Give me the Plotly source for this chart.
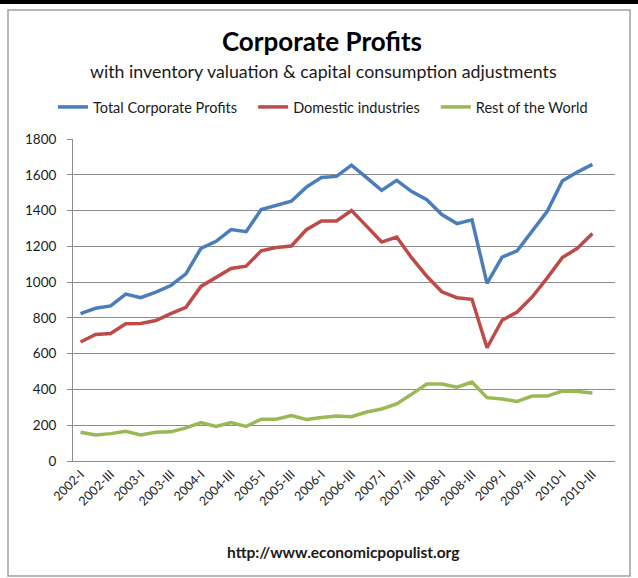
import plotly.graph_objects as go

quarters = [f"{y}-{q}" for y in range(2002, 2011) for q in ["I", "II", "III", "IV"]]
tick_labels = ["2002-I", "2002-III", "2003-I", "2003-III", "2004-I", "2004-III",
               "2005-I", "2005-III", "2006-I", "2006-III", "2007-I", "2007-III",
               "2008-I", "2008-III", "2009-I", "2009-III", "2010-I", "2010-III"]

total = [824, 854, 867, 933, 913, 944, 981, 1046, 1189, 1228, 1294, 1282,
         1406, 1428, 1452, 1531, 1585, 1591, 1654, 1584, 1513, 1569, 1506, 1461,
         1378, 1327, 1348, 993, 1139, 1175, 1285, 1396, 1565, 1615, 1658]
domestic = [665, 707, 713, 767, 769, 785, 824, 859, 976, 1026, 1076, 1089,
            1175, 1193, 1202, 1293, 1342, 1342, 1400, 1313, 1224, 1252, 1135, 1033,
            946, 913, 904, 633, 787, 833, 917, 1024, 1137, 1189, 1272]
rest_world = [161, 146, 153, 166, 146, 161, 163, 185, 215, 193, 215, 193,
              234, 234, 254, 232, 243, 252, 248, 274, 291, 319, 374, 430,
              430, 413, 441, 354, 346, 333, 363, 363, 391, 389, 380]

FONT = "Lato, 'Open Sans', sans-serif"
GRID = "#8c8c8c"
PAD = "\u00a0" * 3  # widen legend entries a little, Excel spaces them further apart

# plot area in pixels: x 73..615, y 139..461
L, R, T, B = 73, 615, 139, 461
W, H = 638, 578


def px_x(p):
    return (p - L) / (R - L)


def px_y(p):
    return (B - p) / (B - T)


fig = go.Figure()
for name, vals, color in [("Total Corporate Profits", total, "#4a7ebb"),
                          ("Domestic industries", domestic, "#be4b48"),
                          ("Rest of the World", rest_world, "#98b954")]:
    fig.add_trace(go.Scatter(x=quarters[:len(vals)], y=vals, name=name + PAD, mode="lines",
                             line=dict(color=color, width=3.5)))

fig.update_layout(
    width=W, height=H,
    margin=dict(l=L, r=W - R, t=T, b=H - B),
    paper_bgcolor="white", plot_bgcolor="white",
    font=dict(family=FONT, color="#1a1a1a", size=12),
    title=dict(text="<b>Corporate Profits</b>", x=px_x(322), xanchor="center",
               y=1 - 42 / H, yanchor="middle", xref="paper",
               font=dict(size=26, color="black")),
    legend=dict(orientation="h", x=px_x(53), y=px_y(107), xanchor="left", yanchor="middle",
                font=dict(size=14.5, color="#1a1a1a"), bgcolor="rgba(0,0,0,0)"),
    xaxis=dict(type="category", categoryorder="array", categoryarray=quarters,
               range=[-0.5, len(quarters) - 0.5], tickmode="array",
               tickvals=tick_labels, ticktext=tick_labels, tickangle=-45,
               showgrid=False, showline=True, linecolor=GRID, ticks="",
               tickfont=dict(size=12.5, color="#1a1a1a")),
    yaxis=dict(range=[0, 1800], dtick=200, showgrid=True, gridcolor=GRID,
               showline=True, linecolor=GRID, ticks="outside", ticklen=5,
               tickcolor=GRID, zeroline=False, ticklabelstandoff=8,
               tickfont=dict(size=13.5, color="#1a1a1a")),
    annotations=[
        dict(text="with inventory valuation & capital consumption adjustments",
             x=px_x(323), y=px_y(71), xref="paper", yref="paper", showarrow=False,
             font=dict(size=17.8, color="#1a1a1a"), xanchor="center", yanchor="middle"),
        dict(text="<b>http://www.economicpopulist.org</b>",
             x=px_x(343), y=px_y(552), xref="paper", yref="paper", showarrow=False,
             font=dict(size=15.5, color="#1a1a1a"), xanchor="center", yanchor="middle"),
    ],
    shapes=[
        dict(type="rect", xref="paper", yref="paper", x0=px_x(8), x1=px_x(630),
             y0=px_y(576), y1=px_y(10), line=dict(color="#a0a0a0", width=1.5)),
        dict(type="rect", xref="paper", yref="paper", x0=px_x(-2), x1=px_x(640),
             y0=px_y(4), y1=px_y(-2), line=dict(width=0), fillcolor="black"),
    ],
)

# the page body has a default 8px margin; drop it so pixel positions line up
fig.write_html("out.html", config={"displayModeBar": False},
               post_script="document.body.style.margin = '0';")
